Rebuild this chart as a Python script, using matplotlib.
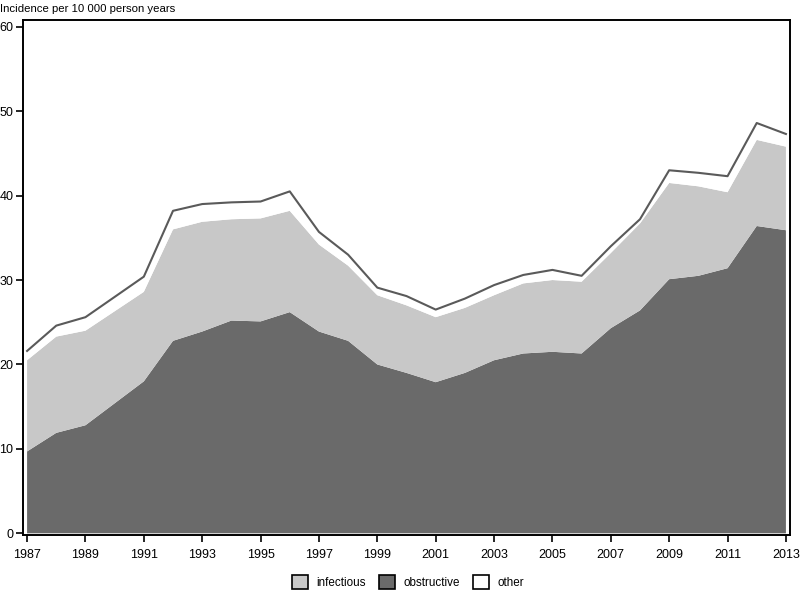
import numpy as np
import matplotlib.pyplot as plt
from matplotlib.patches import Patch

plt.rcParams['font.family'] = ['Liberation Sans', 'DejaVu Sans']

# data (incidence per 10 000 person years)
years = np.arange(1987, 2014)

obstructive = [9.7, 11.9, 12.8, 15.4, 18.0, 22.8, 23.9, 25.2, 25.1, 26.2,
               23.9, 22.8, 20.0, 19.0, 17.9, 19.0, 20.5, 21.3, 21.5, 21.3,
               24.3, 26.4, 30.1, 30.5, 31.4, 36.4, 35.9]

infectious_top = [20.5, 23.3, 24.0, 26.3, 28.6, 36.0, 36.9, 37.2, 37.3, 38.2,
                  34.2, 31.7, 28.2, 27.0, 25.6, 26.7, 28.2, 29.6, 30.0, 29.8,
                  33.2, 36.7, 41.5, 41.1, 40.4, 46.6, 45.8]

total = [21.6, 24.6, 25.6, 28.0, 30.4, 38.2, 39.0, 39.2, 39.3, 40.5,
         35.7, 33.0, 29.1, 28.1, 26.5, 27.8, 29.4, 30.6, 31.2, 30.5,
         34.0, 37.2, 43.0, 42.7, 42.3, 48.6, 47.3]

obstructive = np.array(obstructive)
infectious = np.array(infectious_top) - obstructive
other = np.array(total) - np.array(infectious_top)

labels = ["infectious", "obstructive", "other"]
col_obs = "#6a6a6a"
col_inf = "#c8c8c8"
col_oth = "white"

fig = plt.figure(figsize=(8, 5.92), dpi=100)
ax = fig.add_axes([23 / 800, 1 - 535 / 592, 767 / 800, 515 / 592])

ax.stackplot(years, obstructive, infectious, other,
             colors=[col_obs, col_inf, col_oth], linewidth=0)
ax.plot(years, total, color="#5a5a5a", linewidth=1.5)

ax.set_xlim(1986.86, 2013.14)
ax.set_ylim(-0.2, 60.8)
ax.set_xticks(np.arange(1987, 2014, 2))
ax.set_yticks(np.arange(0, 61, 10))
ax.tick_params(direction="out", length=5, width=1.2, labelsize=9)
ax.tick_params(axis="x", pad=5)
ax.tick_params(axis="y", pad=2)
for s in ax.spines.values():
    s.set_linewidth(1.4)
    s.set_color("black")

fig.text(0.0, 1 - 9 / 592, "Incidence per 10 000 person years",
         fontsize=8.2, va="center", ha="left")

handles = [Patch(facecolor=col_inf, edgecolor="black", linewidth=1.2),
           Patch(facecolor=col_obs, edgecolor="black", linewidth=1.2),
           Patch(facecolor=col_oth, edgecolor="black", linewidth=1.2)]
fig.legend(handles, labels, loc="center", bbox_to_anchor=(408 / 800, 1 - 582 / 592),
           ncol=3, frameon=False, fontsize=8.4, handlelength=1.4, handleheight=1.4,
           columnspacing=1.1, handletextpad=0.7)

fig.savefig("out.png", dpi=100)
